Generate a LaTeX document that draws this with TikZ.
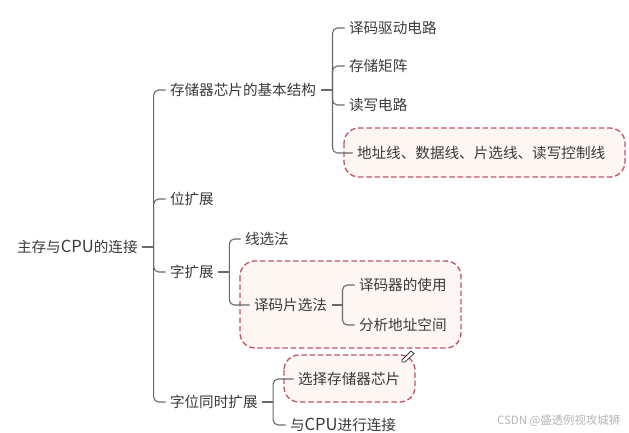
\documentclass[tikz,border=0pt]{standalone}
\usepackage{fontspec}
\usetikzlibrary{calc}
\setmainfont{Noto Sans CJK SC}
\definecolor{txt}{HTML}{3A3A3A}
\definecolor{lin}{HTML}{6A6A6A}
\definecolor{dashc}{HTML}{BF5468}
\definecolor{boxf}{HTML}{FDF6F3}
\definecolor{wm}{HTML}{B4B4B4}
\newcommand{\cpulbl}{{\fontsize{16.6}{16}\selectfont CPU}}
\tikzset{
  lbl/.style={anchor=west,inner sep=0pt,outer sep=4.5pt,text=txt,text height=12.5pt,text depth=1.8pt,
    font=\fontsize{14.6}{16}\selectfont},
  conn/.style={draw=lin,line width=1.1pt,rounded corners=5pt},
  stub/.style={draw=lin,line width=1.1pt},
  hilite/.style={draw=dashc,fill=boxf,line width=1.3pt,dash pattern=on 5.5pt off 2.8pt,rounded corners=15pt}
}
\begin{document}
\begin{tikzpicture}[x=1pt,y=-1pt]
\useasboundingbox (0,0) rectangle (629,433);
% highlighted zones
\draw[hilite] (344,128) rectangle (625,177);
\draw[hilite] (240,261) rectangle (461,348);
\draw[hilite] (284,355) rectangle (415,402);
% nodes
\node[lbl] (root) at (12.5,247) {主存与\cpulbl{}的连接};
\node[lbl] (a) at (165.5,90) {存储器芯片的基本结构};
\node[lbl] (b) at (165.5,199) {位扩展};
\node[lbl] (c) at (165.5,272) {字扩展};
\node[lbl] (d) at (165.5,402) {字位同时扩展};
\node[lbl] (a1) at (344.5,28) {译码驱动电路};
\node[lbl] (a2) at (344.5,66) {存储矩阵};
\node[lbl] (a3) at (344.5,105) {读写电路};
\node[lbl] (a4) at (352.5,153) {地址线、数据线、片选线、读写控制线};
\node[lbl] (c1) at (240.5,239) {线选法};
\node[lbl] (c2) at (249.5,305) {译码片选法};
\node[lbl] (c21) at (354.5,285) {译码器的使用};
\node[lbl] (c22) at (354.5,325) {分析地址空间};
\node[lbl] (d1) at (293.5,379) {选择存储器芯片};
\node[lbl] (d2) at (285.5,425) {与\cpulbl{}进行连接};
% spine junctions
\coordinate (sroot) at ($(root.east)+(11.5,0)$);
\coordinate (sa) at ($(a.east)+(12,0)$);
\coordinate (sc) at ($(c.east)+(11,0)$);
\coordinate (sc2) at ($(c2.east)+(11,0)$);
\coordinate (sd) at ($(d.east)+(11,0)$);
% connectors
\draw[stub] (root.east) -- (sroot);
\draw[stub] (a.east) -- (sa);
\draw[stub] (c.east) -- (sc);
\draw[stub] (c2.east) -- (sc2);
\draw[stub] (d.east) -- (sd);
\foreach \k in {a,b,c,d} \draw[conn] (sroot) |- (\k.west);
\foreach \k in {a1,a2,a3,a4} \draw[conn] (sa) |- (\k.west);
\foreach \k in {c1,c2} \draw[conn] (sc) |- (\k.west);
\foreach \k in {c21,c22} \draw[conn] (sc2) |- (\k.west);
\foreach \k in {d1,d2} \draw[conn] (sd) |- (\k.west);
% pencil cursor
\draw[draw=txt,fill=white,line width=.8pt,line join=round]
  (402,360) -- (411,351) -- (414,353.5) -- (405,362) -- (402,362) -- cycle;
% watermark
\node[anchor=west,inner sep=0pt,text=wm,font=\fontsize{11.4}{12}\selectfont] (wmark) at (497,421) {CSDN @盛透例视攻城狮};
\end{tikzpicture}
\end{document}
